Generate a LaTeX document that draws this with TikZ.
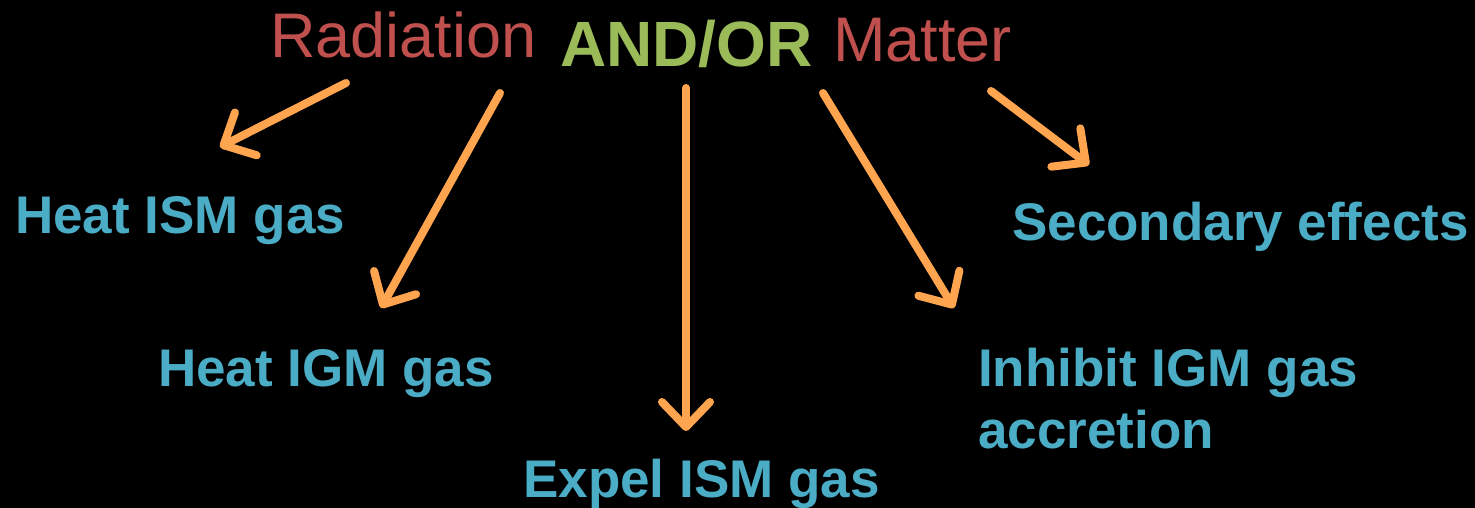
\documentclass[tikz,border=0pt]{standalone}
\usepackage{fontspec}
\setmainfont{Liberation Sans}
\usetikzlibrary{arrows.meta}
\definecolor{headred}{HTML}{C0504D}
\definecolor{headgreen}{HTML}{9BBB59}
\definecolor{effectblue}{HTML}{4BACC6}
\definecolor{arroworange}{HTML}{FFA550}
\begin{document}
\begin{tikzpicture}[x=1pt,y=-1pt,
  head/.style={anchor=base west,inner sep=0pt,font=\fontsize{63}{63}\selectfont},
  effect/.style={anchor=base west,inner sep=0pt,text=effectblue,align=left,
    font=\bfseries\fontsize{53}{62}\selectfont},
  link/.style={draw=arroworange,line width=8pt,line cap=round,
    -{Straight Barb[round,length=25pt,width=48pt]}}]
\fill[black] (0,0) rectangle (1475,508);
\useasboundingbox (0,0) rectangle (1475,508);

% title line
\node[head,text=headred] (rad) at (270,58) {Radiation};
\node[head,text=headgreen,font=\bfseries\fontsize{64}{64}\selectfont] (andor) at (560,67) {AND/OR};
\node[head,text=headred] (mat) at (833,62) {Matter};

% effects (the two-line node sits on the baseline of its last line)
\node[effect] (heatism) at (15,233) {Heat ISM gas};
\node[effect] (heatigm) at (158,386) {Heat IGM gas};
\node[effect] (expel) at (523,497) {Expel ISM gas};
\node[effect] (inhibit) at (978,448) {Inhibit IGM gas\\accretion};
\node[effect] (second) at (1012,240) {Secondary effects};

% arrow ends
\coordinate (t1) at (346,83);  \coordinate (h1) at (220,147);
\coordinate (t2) at (500,93);  \coordinate (h2) at (381,308);
\coordinate (t3) at (686,88);  \coordinate (h3) at (686,431);
\coordinate (t4) at (823,93);  \coordinate (h4) at (954,308);
\coordinate (t5) at (991,91);  \coordinate (h5) at (1089,165);

\draw[link] (t1) -- (h1);
\draw[link] (t2) -- (h2);
\draw[link] (t3) -- (h3);
\draw[link] (t4) -- (h4);
\draw[link] (t5) -- (h5);
\end{tikzpicture}
\end{document}
